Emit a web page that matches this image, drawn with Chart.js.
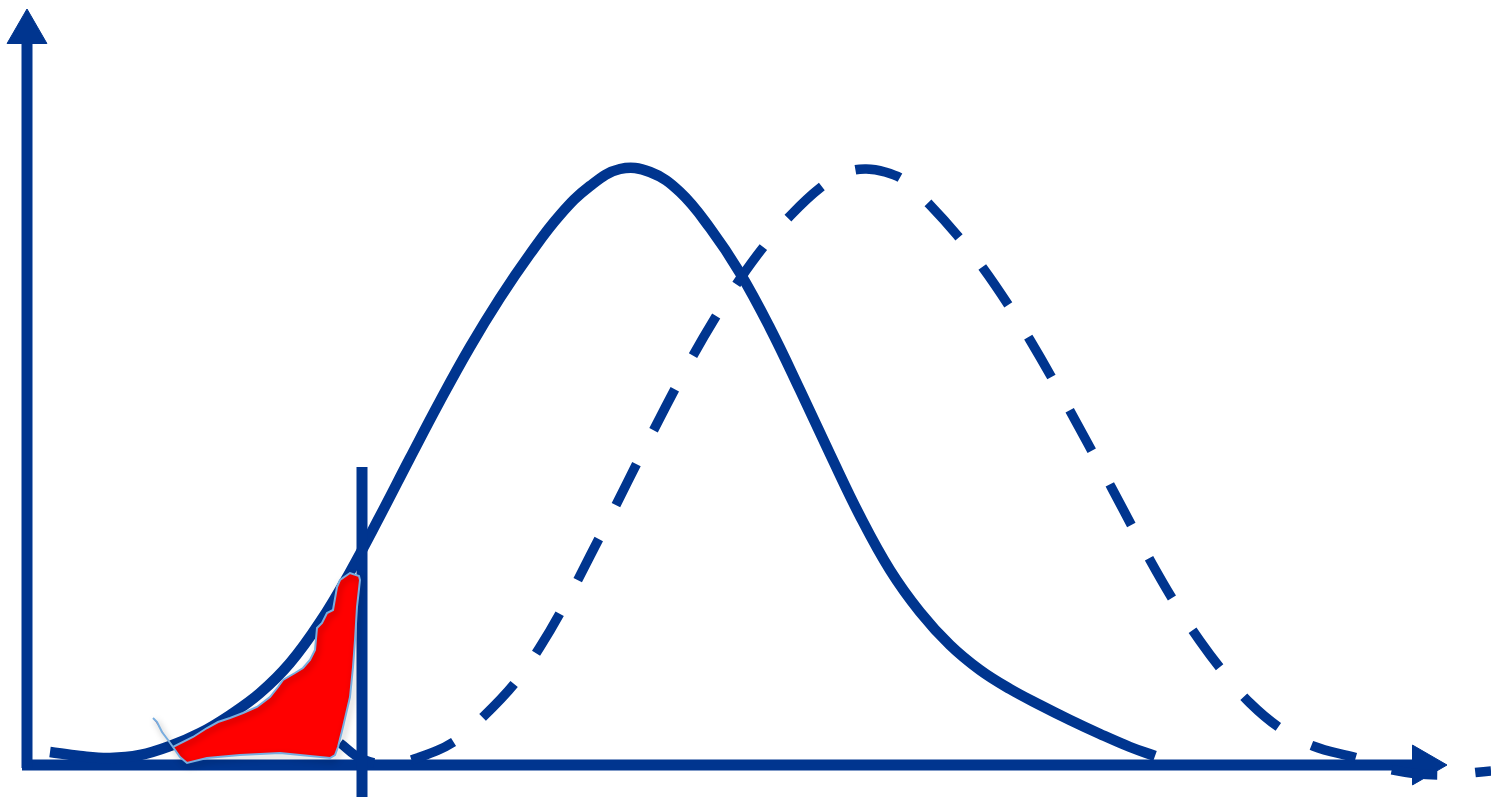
<!DOCTYPE html>
<html>
<head>
<meta charset="utf-8">
<script src="https://cdn.jsdelivr.net/npm/chart.js@4/dist/chart.umd.min.js"></script>
<style>
  body { margin: 0; background: #fff; }
  #wrap { width: 1491px; height: 797px; }
</style>
</head>
<body>
<div id="wrap"><canvas id="mycanvas" width="1491" height="797"></canvas></div>
<script>
// solid curve
var solidX = [50, 80, 110, 140, 170, 200, 230, 260, 290, 320, 350, 380, 410, 440, 470, 500, 530, 560, 590, 620, 650, 680, 710, 740, 770, 800, 830, 860, 890, 920, 950, 980, 1010, 1040, 1070, 1100, 1130, 1155];
var solidY = [45, 41, 39, 42, 51, 64, 82, 104, 134, 175, 225, 281, 339, 396, 450, 499, 543, 582, 611, 628, 625, 605, 569, 524, 469, 407, 343, 281, 227, 185, 152, 127, 108, 92, 77, 63, 50, 41];

// dashed curve
var dashX = [340, 362, 390, 420, 455, 483, 515, 540, 565, 590, 615, 640, 665, 690, 715, 740, 765, 790, 820, 845, 865, 885, 905, 930, 957, 983, 1009, 1030, 1052, 1075, 1100, 1125, 1150, 1175, 1200, 1225, 1250, 1280, 1313, 1357, 1393, 1440, 1491];
var dashY = [54, 38, 33, 40, 56, 80, 114, 150, 193, 241, 290, 340, 389, 436, 479, 518, 552, 581, 609, 624, 628, 625, 616, 592, 562, 529, 491, 457, 419, 377, 331, 284, 237, 194, 156, 123, 94, 69, 51, 39, 27, 22, 26];

// red area (outline incl. small tail)
var areaX = [173, 180, 187, 207, 240, 280, 330, 335, 338, 343, 350, 353, 355, 357, 360, 359, 350, 340, 337, 333, 327, 322, 317, 315, 310, 303, 295, 283, 278, 270, 257, 243, 230, 218, 207, 193, 173, 168, 162, 157, 153];
var areaY = [50, 40, 34, 39, 42, 44, 39, 42, 50, 70, 100, 130, 157, 190, 217, 221, 224, 217, 210, 187, 184, 174, 169, 147, 137, 129, 124, 117, 110, 100, 90, 84, 79, 75, 69, 60, 50, 57, 65, 75, 79];

// threshold line and axes
var cutX = [362, 362];
var cutY = [330, -5];
var yAxisX = [27, 27];
var yAxisY = [755, 29];
var xAxisX = [22, 1420];
var xAxisY = [32, 32];

var blue = "#00358f";

function pts(xs, ys) {
  var out = [];
  for (var i in xs) {
    out.push({x: xs[i], y: ys[i]});
  }
  return out;
}

var shadowPlugin = {
  id: "shadow",
  beforeDatasetDraw: function(chart, args) {
    if (args.index === 0) {
      var c = chart.ctx;
      c.save();
      c.shadowColor = "rgba(0,0,0,0.35)";
      c.shadowBlur = 6;
      c.shadowOffsetX = 2;
      c.shadowOffsetY = 3;
    }
  },
  afterDatasetDraw: function(chart, args) {
    if (args.index === 0) chart.ctx.restore();
  }
};

var chartdata = {
  datasets: [
    {
      data: pts(areaX, areaY),
      fill: "shape",
      backgroundColor: "#ff0000",
      borderColor: "#78aee0",
      borderWidth: 2,
      tension: 0,
      pointRadius: 0,
      clip: false
    },
    {
      data: pts(cutX, cutY),
      borderColor: blue,
      borderWidth: 11,
      pointRadius: 0,
      clip: false
    },
    {
      data: pts(solidX, solidY),
      borderColor: blue,
      borderWidth: 10.5,
      tension: 0.4,
      pointRadius: 0,
      clip: false
    },
    {
      data: pts(dashX, dashY),
      borderColor: blue,
      borderWidth: 9.5,
      borderDash: [46, 38],
      borderDashOffset: 6,
      tension: 0.4,
      pointRadius: 0,
      clip: false
    },
    {
      data: pts(yAxisX, yAxisY),
      borderColor: blue,
      borderWidth: 11,
      pointRadius: 0,
      clip: false
    },
    {
      data: pts(xAxisX, xAxisY),
      borderColor: blue,
      borderWidth: 11,
      pointRadius: 0,
      clip: false
    },
    {
      data: [{x: 27, y: 765}],
      showLine: false,
      pointStyle: "triangle",
      pointRadius: 23,
      pointRotation: 0,
      pointBackgroundColor: blue,
      pointBorderColor: blue,
      pointBorderWidth: 1,
      clip: false
    },
    {
      data: [{x: 1424, y: 32}],
      showLine: false,
      pointStyle: "triangle",
      pointRadius: 23,
      pointRotation: 90,
      pointBackgroundColor: blue,
      pointBorderColor: blue,
      pointBorderWidth: 1,
      clip: false
    }
  ]
};

var ctx = document.getElementById("mycanvas");

var LineGraph = new Chart(ctx, {
  type: "line",
  data: chartdata,
  plugins: [shadowPlugin],
  options: {
    responsive: false,
    animation: false,
    layout: { padding: 0, autoPadding: false },
    plugins: {
      legend: { display: false },
      tooltip: { enabled: false }
    },
    scales: {
      x: { type: "linear", min: 0, max: 1491, display: false },
      y: { type: "linear", min: 0, max: 797, display: false }
    }
  }
});
</script>
</body>
</html>
